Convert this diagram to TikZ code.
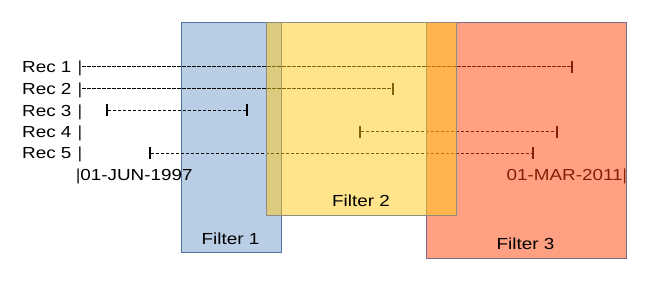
\documentclass[tikz,border=0pt]{standalone}
\usepackage{fontspec}
\setmainfont{Liberation Sans}
\usepackage{graphicx}
\definecolor{blueF}{RGB}{185,205,229}
\definecolor{blueE}{RGB}{80,115,165}
\definecolor{yellowF}{RGB}{255,201,25}
\definecolor{yellowE}{RGB}{140,140,128}
\definecolor{redF}{RGB}{255,65,8}
\definecolor{redE}{RGB}{120,110,140}
\newcommand{\wtxt}[1]{\scalebox{1.18}[1]{#1}}

\begin{document}
\begin{tikzpicture}[x=1pt,y=-1pt,
  lbl/.style={inner sep=0pt,font=\fontsize{16}{19}\selectfont},
  tick/.style={fill=black,inner sep=0pt,minimum width=1.6pt,minimum height=12pt},
  span/.style={line width=1pt,dash pattern=on 3.3pt off 1.7pt},
  filterbox/.style={inner sep=0pt,outer sep=0pt}]
  \useasboundingbox (0,0) rectangle (658,288);
  % filter 1 sits behind the records
  \node[filterbox,draw=blueE,fill=blueF,minimum width=100pt,minimum height=230pt] (F1) at (231,137) {};
  % record labels
  \node[lbl,anchor=base west] (r1) at (22,72.3)  {\wtxt{Rec 1}};
  \node[lbl,anchor=base west] (r2) at (22,94.6)  {\wtxt{Rec 2}};
  \node[lbl,anchor=base west] (r3) at (22,116.1) {\wtxt{Rec 3}};
  \node[lbl,anchor=base west] (r4) at (22,137.6) {\wtxt{Rec 4}};
  \node[lbl,anchor=base west] (r5) at (22,158.9) {\wtxt{Rec 5}};
  \node[lbl,anchor=base] (b1) at (80,72.3)  {|};
  \node[lbl,anchor=base] (b2) at (80,94.6)  {|};
  \node[lbl,anchor=base] (b3) at (80,116.1) {|};
  \node[lbl,anchor=base] (b4) at (80,137.6) {|};
  \node[lbl,anchor=base] (b5) at (80,158.9) {|};
  % ticks
  \node[tick] (e1) at (572,66.7)  {};
  \node[tick] (e2) at (393,89)    {};
  \node[tick] (s3) at (107,110.5) {};
  \node[tick] (e3) at (247,110.5) {};
  \node[tick] (s4) at (360,132)   {};
  \node[tick] (e4) at (557,132)   {};
  \node[tick] (s5) at (150,153.3) {};
  \node[tick] (e5) at (533,153.3) {};
  \draw[span] (e1 -| b1.east) -- (e1);
  \draw[span] (e2 -| b2.east) -- (e2);
  \draw[span] (s3) -- (e3);
  \draw[span] (s4) -- (e4);
  \draw[span] (s5) -- (e5);
  % dates
  \node[lbl,anchor=base west] (d1) at (76,181)    {|\wtxt{01-JUN-1997}};
  \node[lbl,anchor=base east] (d2) at (627,180.5) {\wtxt{01-MAR-2011}|};
  % filters 3 and 2 lie over the records
  \node[filterbox,draw=redE,fill=redF,fill opacity=0.5,minimum width=200pt,minimum height=236pt] (F3) at (526,140) {};
  \node[filterbox,draw=yellowE,fill=yellowF,fill opacity=0.5,minimum width=190pt,minimum height=193pt] (F2) at (361,118.5) {};
  \node[lbl,anchor=base] (l1) at (230.5,244.5) {\wtxt{Filter 1}};
  \node[lbl,anchor=base] (l2) at (361,206.7)   {\wtxt{Filter 2}};
  \node[lbl,anchor=base] (l3) at (525.5,250)   {\wtxt{Filter 3}};
\end{tikzpicture}
\end{document}
